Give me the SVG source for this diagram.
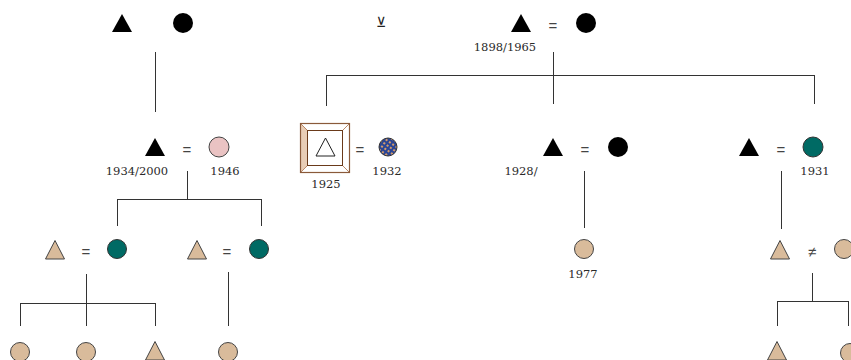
<svg xmlns="http://www.w3.org/2000/svg" width="851" height="360" viewBox="0 0 851 360">
<defs>
<style>
.lbl{font-family:"DejaVu Serif","Liberation Serif",serif;font-size:11.5px;fill:#2a2a2a;text-anchor:middle}
.eq{font-family:"Liberation Sans",Arial,sans-serif;font-size:15px;fill:#444;text-anchor:middle}
.blk{fill:#000}
.tan{fill:#d9bb9b;stroke:#444;stroke-width:1}
.teal{fill:#006a64;stroke:#333;stroke-width:1}
.pink{fill:#eac3c3;stroke:#444;stroke-width:1}
.ln{fill:none;stroke:#333;stroke-width:1}
.bev{fill:#fff;stroke:#b07a55;stroke-width:0.8}
</style>
<pattern id="chk" width="4" height="4" patternUnits="userSpaceOnUse" patternTransform="rotate(35)">
<rect width="4" height="4" fill="#2a4595"/>
<rect x="0" y="0" width="2" height="2" fill="#d49a6a"/>
</pattern>
</defs>
<g id="connectors">
<path class="ln" d="M155.5 52V112"/>
<path class="ln" d="M553.5 52V104M326.5 75.5H814.5M326.5 75V106M814.5 75V104"/>
<path class="ln" d="M187.5 171V199.5M117.5 199.5H261.5M117.5 199V226M261.5 199V226"/>
<path class="ln" d="M584.5 171V228"/>
<path class="ln" d="M781.5 171V229"/>
<path class="ln" d="M86.5 274V326M20.5 303.5H155.5M20.5 303V326M155.5 303V326"/>
<path class="ln" d="M228.5 272V326"/>
<path class="ln" d="M812.5 273V301.5M777.5 301.5H848.5M777.5 301V326M848.5 301V326"/>
</g>
<g id="n-topleft-m"><polygon class="blk" points="122,14 132,32 112,32"/></g>
<g id="n-topleft-f"><circle class="blk" cx="183" cy="23" r="10"/></g>
<g id="n-symbol"><text x="381" y="27" font-family="DejaVu Sans,sans-serif" font-size="14" fill="#222" text-anchor="middle">⊻</text></g>
<g id="n-top-m"><polygon class="blk" points="521,14 531,32 511,32"/><text class="lbl" x="505" y="51">1898/1965</text></g>
<g id="eq-top"><text class="eq" x="553" y="31">=</text></g>
<g id="n-top-f"><circle class="blk" cx="586" cy="23" r="10"/></g>

<g id="n-a-m"><polygon class="blk" points="155,138 165,156 145,156"/><text class="lbl" x="137" y="175">1934/2000</text></g>
<g id="eq-a"><text class="eq" x="187" y="155">=</text></g>
<g id="n-a-f"><circle class="pink" cx="219" cy="147" r="10"/><text class="lbl" x="225" y="175">1946</text></g>

<g id="n-b-m">
<polygon class="bev" points="300.5,123.5 349.5,123.5 342.5,130.5 307.5,130.5"/>
<polygon points="300.5,123.5 307.5,130.5 307.5,165.5 300.5,172.5" fill="#e8cdb6" stroke="#b07a55" stroke-width="0.8"/>
<polygon class="bev" points="349.5,123.5 349.5,172.5 342.5,165.5 342.5,130.5"/>
<polygon class="bev" points="300.5,172.5 307.5,165.5 342.5,165.5 349.5,172.5"/>
<rect x="300.5" y="123.5" width="49" height="49" fill="none" stroke="#8a5a3a" stroke-width="1.2"/>
<rect x="307.5" y="130.5" width="35" height="35" fill="#fff" stroke="#6a3a1a" stroke-width="1"/>
<polygon points="325.5,138 335,156 316,156" fill="#fff" stroke="#222" stroke-width="1"/>
<text class="lbl" x="326" y="188">1925</text>
</g>
<g id="eq-b"><text class="eq" x="360" y="155">=</text></g>
<g id="n-b-f"><circle cx="388" cy="147" r="9" fill="url(#chk)" stroke="#333" stroke-width="1"/><text class="lbl" x="387" y="175">1932</text></g>

<g id="n-c-m"><polygon class="blk" points="553,138 563,156 543,156"/><text class="lbl" x="521" y="175">1928/</text></g>
<g id="eq-c"><text class="eq" x="585" y="155">=</text></g>
<g id="n-c-f"><circle class="blk" cx="618" cy="147" r="10"/></g>

<g id="n-d-m"><polygon class="blk" points="749,138 759,156 739,156"/></g>
<g id="eq-d"><text class="eq" x="781" y="155">=</text></g>
<g id="n-d-f"><circle class="teal" cx="813" cy="147" r="10"/><text class="lbl" x="815" y="175">1931</text></g>

<g id="n-e-m"><polygon class="tan" points="55,240.5 64.5,259 45.5,259"/></g>
<g id="eq-e"><text class="eq" x="86" y="257">=</text></g>
<g id="n-e-f"><circle class="teal" cx="117" cy="249" r="9.5"/></g>

<g id="n-f-m"><polygon class="tan" points="197,240.5 206.5,259 187.5,259"/></g>
<g id="eq-f"><text class="eq" x="227" y="257">=</text></g>
<g id="n-f-f"><circle class="teal" cx="259" cy="249" r="9.5"/></g>

<g id="n-g"><circle class="tan" cx="584" cy="249" r="9.5"/><text class="lbl" x="583" y="278">1977</text></g>

<g id="n-h-m"><polygon class="tan" points="780,240.5 789.5,259 770.5,259"/></g>
<g id="neq-h"><text class="eq" x="812" y="257" fill="#111">≠</text></g>
<g id="n-h-f"><circle class="tan" cx="844" cy="249" r="9.5"/></g>

<g id="n-k1"><circle class="tan" cx="20" cy="352" r="9.5"/></g>
<g id="n-k2"><circle class="tan" cx="86" cy="352" r="9.5"/></g>
<g id="n-k3"><polygon class="tan" points="155,341.5 164.5,360 145.5,360"/></g>
<g id="n-k4"><circle class="tan" cx="228" cy="352" r="9.5"/></g>
<g id="n-k5"><polygon class="tan" points="777,341.5 786.5,360 767.5,360"/></g>
<g id="n-k6"><circle class="tan" cx="850" cy="353" r="9.5"/></g>
</svg>
